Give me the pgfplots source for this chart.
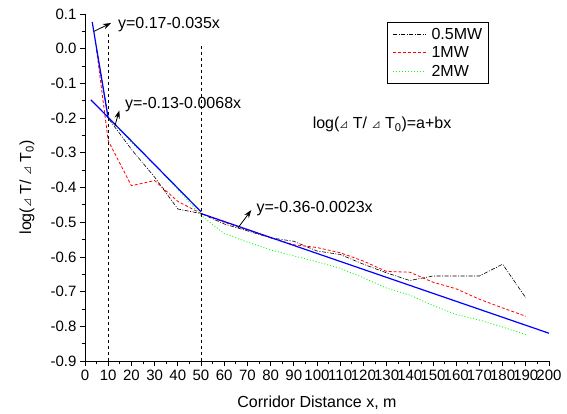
\documentclass[border=0pt]{standalone}
\usepackage{fontspec}
\setmainfont{Liberation Sans}
\newfontfamily\cjk{Noto Sans CJK SC}
\usepackage{pgfplots}
\pgfplotsset{compat=1.18}
\usetikzlibrary{arrows.meta}

\newcommand{\tri}{{\cjk\fontsize{9}{9}\selectfont ⊿}}

\begin{document}
\begin{tikzpicture}
\begin{axis}[
  name=ax,
  scale only axis,
  width=464pt,
  height=347pt,
  xmin=0, xmax=200,
  ymin=-0.9, ymax=0.1,
  axis x line*=bottom,
  axis y line*=left,
  tick align=outside,
  major tick length=5pt,
  minor tick length=3pt,
  xtick={0,10,...,200},
  ytick={-0.9,-0.8,...,0.1},
  minor x tick num=1,
  minor y tick num=1,
  tick style={black, line width=0.8pt},
  axis line style={line width=0.8pt},
  /pgf/number format/assume math mode=true,
  yticklabel style={/pgf/number format/.cd, fixed, fixed zerofill, precision=1},
  ticklabel style={font=\fontsize{15}{17}\selectfont},
  xlabel={Corridor Distance x, m},
  ylabel={log(\tri\ T/ \tri\ T\textsubscript{0})},
  label style={font=\fontsize{16}{19}\selectfont},
  xlabel style={at={(axis description cs:0.5,-0.135)}, anchor=base},
  ylabel style={at={(axis description cs:-0.125,0.5)}, anchor=center},
  legend style={at={(axis description cs:0.650,0.978)}, anchor=north west,
    draw=black, fill=white, font=\fontsize{16}{18}\selectfont,
    row sep=2pt, inner sep=4pt},
  legend cell align=left,
  legend image code/.code={\draw[#1] (0pt,0pt) -- (33pt,0pt); \path (-2pt,0pt) (36pt,0pt);},
]
% measured data
\addplot[black, line width=0.6pt, dash pattern=on 4pt off 1.5pt on 1pt off 1.5pt] coordinates {
  (5,0.0) (10,-0.2) (20,-0.29) (30,-0.37) (40,-0.462) (50,-0.475)
  (60,-0.505) (70,-0.525) (80,-0.545) (90,-0.555) (100,-0.583)
  (110,-0.593) (120,-0.621) (130,-0.646) (140,-0.668) (150,-0.655)
  (160,-0.655) (170,-0.655) (180,-0.621) (190,-0.718)
};
\addlegendentry{0.5MW}
\addplot[color=red, line width=0.8pt, dash pattern=on 3pt off 2pt] coordinates {
  (5,-0.005) (10,-0.265) (20,-0.395) (30,-0.38) (40,-0.44) (50,-0.475)
  (60,-0.50) (70,-0.522) (80,-0.545) (90,-0.565) (100,-0.573)
  (110,-0.588) (120,-0.612) (130,-0.642) (140,-0.644) (150,-0.673)
  (160,-0.692) (170,-0.722) (180,-0.747) (190,-0.771)
};
\addlegendentry{1MW}
\addplot[color=green, line width=0.8pt, dash pattern=on 1pt off 2pt] coordinates {
  (5,0.0) (10,-0.2) (20,-0.27) (30,-0.335) (40,-0.405) (50,-0.48)
  (60,-0.533) (70,-0.557) (80,-0.58) (90,-0.597) (100,-0.614)
  (110,-0.633) (120,-0.66) (130,-0.69) (140,-0.71) (150,-0.74)
  (160,-0.766) (170,-0.782) (180,-0.802) (190,-0.824)
};
\addlegendentry{2MW}
% fitted lines
\addplot[blue, line width=1.2pt, forget plot] coordinates {(3.1,0.077) (10,-0.2)};
\addplot[blue, line width=1.2pt, forget plot] coordinates {(2.5,-0.147) (50,-0.47)};
\addplot[blue, line width=1.2pt, forget plot] coordinates {(50,-0.475) (200,-0.82)};
% region boundaries
\addplot[black, line width=0.8pt, dashed, forget plot] coordinates {(10,-0.9) (10,0.05)};
\addplot[black, line width=0.8pt, dashed, forget plot] coordinates {(50,-0.9) (50,0.01)};
% arrows
\addplot[black, line width=0.8pt, -{Stealth[length=8pt,width=5.5pt]}, forget plot] coordinates {(3.9,0.05) (11.2,0.074)};
\addplot[black, line width=0.8pt, -{Stealth[length=8pt,width=5.5pt]}, forget plot] coordinates {(12.9,-0.222) (14.8,-0.178)};
\addplot[black, line width=0.8pt, -{Stealth[length=8pt,width=5.5pt]}, forget plot] coordinates {(66,-0.516) (71.7,-0.465)};

\node[anchor=west, inner sep=0pt, font=\fontsize{16}{19}\selectfont] at (axis cs:14.2,0.070) {y=0.17-0.035x};
\node[anchor=west, inner sep=0pt, font=\fontsize{16}{19}\selectfont] at (axis cs:17.2,-0.161) {y=-0.13-0.0068x};
\node[anchor=west, inner sep=0pt, font=\fontsize{16}{19}\selectfont] at (axis cs:73.9,-0.460) {y=-0.36-0.0023x};
\node[anchor=west, inner sep=0pt, font=\fontsize{16}{19}\selectfont] at (axis cs:98.1,-0.219) {log(\tri\ T/ \tri\ T\textsubscript{0})=a+bx};
\end{axis}
\pgfresetboundingbox
\path ([xshift=-85pt,yshift=-52pt]ax.south west) rectangle ([xshift=18pt,yshift=14pt]ax.north east);
\end{tikzpicture}
\end{document}
